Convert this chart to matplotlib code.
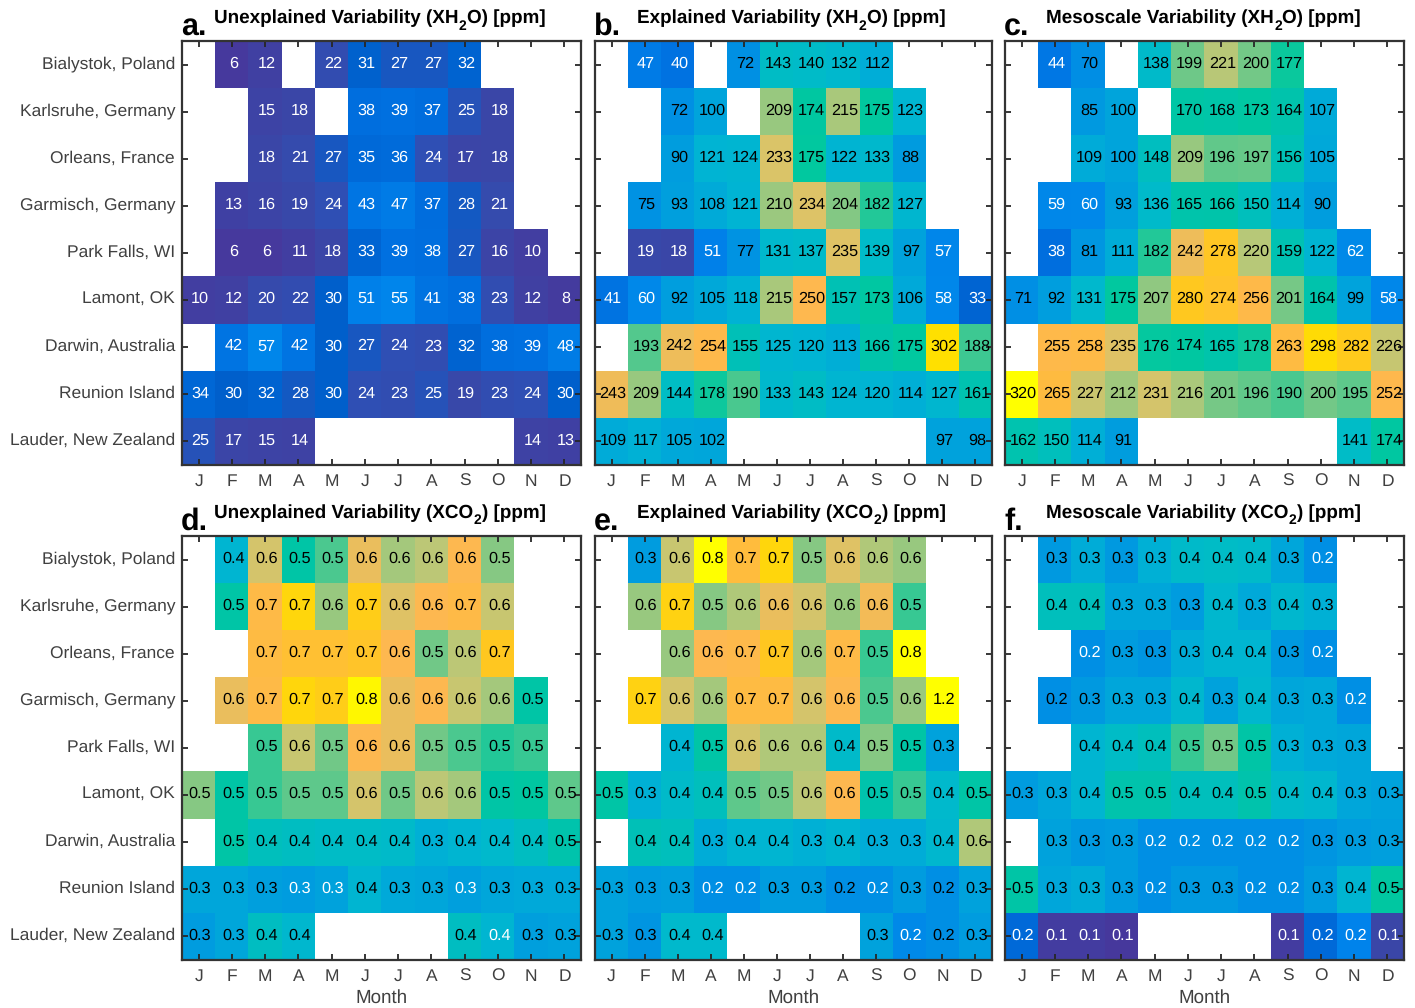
import numpy as np
import matplotlib
matplotlib.use("Agg")
import matplotlib.pyplot as plt
from matplotlib.colors import LinearSegmentedColormap
from matplotlib.transforms import ScaledTranslation

plt.rcParams['font.family'] = ['Liberation Sans', 'DejaVu Sans']
plt.rcParams['text.hinting'] = 'no_hinting'

n = np.nan

sites = ["Bialystok, Poland", "Karlsruhe, Germany", "Orleans, France", "Garmisch, Germany",
         "Park Falls, WI", "Lamont, OK", "Darwin, Australia", "Reunion Island", "Lauder, New Zealand"]
months = ["J", "F", "M", "A", "M", "J", "J", "A", "S", "O", "N", "D"]

h2o_unexplained = [
    [n, 6, 12, n, 22, 31, 27, 27, 32, n, n, n],
    [n, n, 15, 18, n, 38, 39, 37, 25, 18, n, n],
    [n, n, 18, 21, 27, 35, 36, 24, 17, 18, n, n],
    [n, 13, 16, 19, 24, 43, 47, 37, 28, 21, n, n],
    [n, 6, 6, 11, 18, 33, 39, 38, 27, 16, 10, n],
    [10, 12, 20, 22, 30, 51, 55, 41, 38, 23, 12, 8],
    [n, 42, 57, 42, 30, 27, 24, 23, 32, 38, 39, 48],
    [34, 30, 32, 28, 30, 24, 23, 25, 19, 23, 24, 30],
    [25, 17, 15, 14, n, n, n, n, n, n, 14, 13],
]
h2o_explained = [
    [n, 47, 40, n, 72, 143, 140, 132, 112, n, n, n],
    [n, n, 72, 100, n, 209, 174, 215, 175, 123, n, n],
    [n, n, 90, 121, 124, 233, 175, 122, 133, 88, n, n],
    [n, 75, 93, 108, 121, 210, 234, 204, 182, 127, n, n],
    [n, 19, 18, 51, 77, 131, 137, 235, 139, 97, 57, n],
    [41, 60, 92, 105, 118, 215, 250, 157, 173, 106, 58, 33],
    [n, 193, 242, 254, 155, 125, 120, 113, 166, 175, 302, 188],
    [243, 209, 144, 178, 190, 133, 143, 124, 120, 114, 127, 161],
    [109, 117, 105, 102, n, n, n, n, n, n, 97, 98],
]
h2o_mesoscale = [
    [n, 44, 70, n, 138, 199, 221, 200, 177, n, n, n],
    [n, n, 85, 100, n, 170, 168, 173, 164, 107, n, n],
    [n, n, 109, 100, 148, 209, 196, 197, 156, 105, n, n],
    [n, 59, 60, 93, 136, 165, 166, 150, 114, 90, n, n],
    [n, 38, 81, 111, 182, 242, 278, 220, 159, 122, 62, n],
    [71, 92, 131, 175, 207, 280, 274, 256, 201, 164, 99, 58],
    [n, 255, 258, 235, 176, 174, 165, 178, 263, 298, 282, 226],
    [320, 265, 227, 212, 231, 216, 201, 196, 190, 200, 195, 252],
    [162, 150, 114, 91, n, n, n, n, n, n, 141, 174],
]
# second decimal, the labels only show one
co2_unexplained = [
    [n, .36, .60, .46, .51, .62, .56, .58, .64, .54, n, n],
    [n, .46, .66, .74, .55, .72, .61, .64, .66, .59, n, n],
    [n, n, .67, .69, .69, .70, .64, .53, .58, .71, n, n],
    [n, .62, .66, .74, .72, .79, .62, .64, .59, .56, .46, n],
    [n, n, .50, .59, .53, .64, .62, .53, .51, .49, .50, n],
    [.54, .46, .50, .52, .52, .60, .53, .58, .56, .46, .47, .52],
    [n, .46, .42, .41, .40, .40, .39, .34, .36, .38, .41, .45],
    [.31, .31, .29, .28, .30, .36, .32, .31, .29, .31, .32, .32],
    [.28, .31, .41, .37, n, n, n, n, .41, .36, .29, .30],
]
co2_explained = [
    [n, .28, .59, .80, .68, .74, .54, .61, .57, .55, n, n],
    [n, .55, .73, .54, .57, .62, .60, .55, .63, .50, n, n],
    [n, n, .55, .64, .65, .71, .56, .66, .50, .80, n, n],
    [n, .73, .60, .56, .67, .67, .60, .64, .51, .55, 1.2, n],
    [n, n, .36, .46, .60, .57, .57, .39, .54, .46, .30, n],
    [.46, .34, .39, .42, .52, .53, .58, .64, .45, .50, .38, .46],
    [n, .43, .42, .33, .36, .36, .34, .36, .33, .33, .37, .57],
    [.30, .28, .29, .24, .24, .28, .28, .24, .24, .28, .24, .30],
    [.30, .26, .38, .38, n, n, n, n, .30, .22, .24, .28],
]
co2_mesoscale = [
    [n, .27, .33, .27, .34, .39, .40, .39, .31, .24, n, n],
    [n, .42, .42, .31, .31, .28, .37, .32, .37, .34, n, n],
    [n, n, .24, .28, .26, .33, .36, .36, .27, .24, n, n],
    [n, .24, .27, .31, .31, .37, .30, .37, .31, .32, .24, n],
    [n, n, .36, .40, .42, .50, .53, .46, .34, .32, .31, n],
    [.28, .31, .36, .45, .45, .42, .42, .45, .39, .37, .31, .30],
    [n, .30, .27, .28, .24, .24, .24, .24, .24, .26, .28, .29],
    [.46, .31, .33, .28, .24, .27, .27, .24, .24, .28, .36, .47],
    [.16, .10, .10, .09, n, n, n, n, .10, .16, .20, .12],
]

# (row, column) of the xco2 cells printed in white
white_d = [(7, 3), (7, 4), (7, 8), (8, 9)]
white_e = [(7, 3), (7, 4), (7, 8), (8, 9)]
white_f = [(0, 9), (2, 2), (2, 9), (3, 10), (6, 4), (6, 5), (6, 6), (6, 7), (6, 8), (7, 4), (7, 7), (7, 8),
           (8, 0), (8, 1), (8, 2), (8, 3), (8, 8), (8, 9), (8, 10), (8, 11)]

stops = [(0.0, "#473598"), (0.02, "#463a9e"), (0.056, "#3a47a8"), (0.075, "#2f50b5"), (0.094, "#0060cc"),
         (0.119, "#0070e0"), (0.17, "#0085ec"), (0.225, "#0090e4"), (0.31, "#00a4dc"), (0.375, "#00b4d4"),
         (0.44, "#00bcc8"), (0.515, "#00c4ac"), (0.547, "#00c8a0"), (0.594, "#48c890"), (0.653, "#98c880"),
         (0.69, "#b8c878"), (0.73, "#dcc468"), (0.78, "#feb850"), (0.83, "#ffbc40"), (0.875, "#ffc820"),
         (0.944, "#ffe000"), (1.0, "#ffff00")]
cmap = LinearSegmentedColormap.from_list("parula_ish", stops, N=512)
cmap.set_bad("white")

W, H = 1415, 1008
fig = plt.figure(figsize=(W / 100, H / 100), dpi=100)
renderer = fig.canvas.get_renderer()

lefts = [182, 595, 1005]
rights = [581, 992, 1404]
tops = [41, 536]
bottoms = [465, 960]


def title_text(x, y, head, tail):
    # subscript drawn as its own text, it sits lower than mathtext would put it
    t = fig.text(x / W, 1 - y / H, head, fontsize=13.6, fontweight="bold", va="baseline")
    x2 = t.get_window_extent(renderer).x1 + 0.5
    t = fig.text(x2 / W, 1 - (y + 6.5) / H, "2", fontsize=10, fontweight="bold", va="baseline")
    x3 = t.get_window_extent(renderer).x1 + 0.5
    fig.text(x3 / W, 1 - y / H, tail, fontsize=13.6, fontweight="bold", va="baseline")


def panel(col, row, data, vmin, vmax, letter, head, tail, title_x, fmt, white):
    left, right, top, bottom = lefts[col], rights[col], tops[row], bottoms[row]
    ax = fig.add_axes([left / W, 1 - bottom / H, (right - left) / W, (bottom - top) / H])
    arr = np.array(data, dtype=float)
    ax.imshow(np.ma.masked_invalid(arr), cmap=cmap, vmin=vmin, vmax=vmax, aspect="auto",
              interpolation="nearest", extent=(-0.5, 11.5, 8.5, -0.5))
    for i in range(arr.shape[0]):
        for j in range(arr.shape[1]):
            if np.isnan(arr[i, j]):
                continue
            c = "white" if white(i, j, arr[i, j]) else "black"
            ax.text(j + 0.045, i - 0.02, fmt.format(arr[i, j]), ha="center", va="center", color=c, fontsize=11.7)
    ax.set_xticks(range(12))
    ax.set_xticklabels(months)
    ax.set_yticks(range(9))
    ax.set_yticklabels(sites if col == 0 else [])
    ax.tick_params(direction="in", length=4, width=1.3, color="#262626", top=True, right=True,
                   labelcolor="#404040", pad=5)
    ax.tick_params(axis="x", labelsize=12.5, pad=6)
    ax.tick_params(axis="y", labelsize=12.5)
    up = ScaledTranslation(0, 2.5 / 100, fig.dpi_scale_trans)
    for lab in ax.get_yticklabels():
        lab.set_transform(lab.get_transform() + up)
    for s in ax.spines.values():
        s.set_linewidth(1.6)
        s.set_color("#333333")
    if row == 1:
        ax.set_xlabel("Month", fontsize=13.5, color="#404040", labelpad=3.5)
    fig.text((left - 1) / W, 1 - (top - 6) / H, letter, fontsize=22, fontweight="bold", ha="left", va="baseline")
    title_text(title_x, top - 18, head, tail)


def white_h2o(i, j, v):
    return v < 65


def white_from(cells):
    return lambda i, j, v: (i, j) in cells


panel(0, 0, h2o_unexplained, 0, 320, "a.", "Unexplained Variability (XH", "O) [ppm]", 214, "{:.0f}", white_h2o)
panel(1, 0, h2o_explained, 0, 320, "b.", "Explained Variability (XH", "O) [ppm]", 637, "{:.0f}", white_h2o)
panel(2, 0, h2o_mesoscale, 0, 320, "c.", "Mesoscale Variability (XH", "O) [ppm]", 1046, "{:.0f}", white_h2o)
panel(0, 1, co2_unexplained, 0.08, 0.8, "d.", "Unexplained Variability (XCO", ") [ppm]", 214, "{:.1f}", white_from(white_d))
panel(1, 1, co2_explained, 0.08, 0.8, "e.", "Explained Variability (XCO", ") [ppm]", 637, "{:.1f}", white_from(white_e))
panel(2, 1, co2_mesoscale, 0.08, 0.8, "f.", "Mesoscale Variability (XCO", ") [ppm]", 1046, "{:.1f}", white_from(white_f))

fig.savefig("out.png", dpi=100)
